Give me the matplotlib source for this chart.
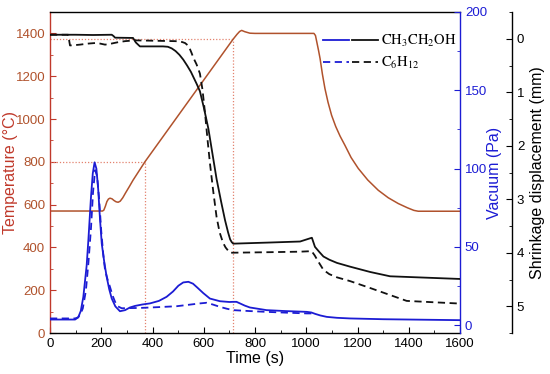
import numpy as np
import matplotlib
matplotlib.use("Agg")
import matplotlib.pyplot as plt
from matplotlib.ticker import MultipleLocator
from matplotlib.legend_handler import HandlerTuple

plt.rcParams['font.family'] = ['Liberation Sans', 'DejaVu Sans']
plt.rcParams['mathtext.fontset'] = 'stix'

# ---- data ----
temp_t = [0, 205, 210, 216, 222, 228, 234, 242, 250, 258, 266, 274, 284, 295, 310, 324, 371,
          714, 730, 740, 748, 760, 780, 800, 1030, 1036, 1042, 1048, 1054, 1063, 1073, 1085,
          1099, 1115, 1132, 1151, 1175, 1203, 1240, 1281, 1320, 1359, 1395, 1420, 1437, 1600]
temp_T = [570, 570, 574, 592, 614, 626, 630, 627, 619, 613, 611, 616, 632, 655, 685, 714, 801,
          1372, 1396, 1409, 1414, 1408, 1401, 1400, 1400, 1390, 1355, 1320, 1282, 1210, 1142, 1078,
          1017, 965, 920, 877, 820, 769, 715, 667, 632, 605, 585, 573, 569, 569]

vac_eth_t = [0, 98, 110, 120, 130, 143, 150, 160, 167, 174, 181, 188, 195, 202, 212, 221, 231,
             241, 255, 273, 293, 312, 332, 360, 390, 425, 455, 480, 501, 520, 540, 558, 575,
             598, 624, 663, 700, 715, 728, 740, 760, 780, 845, 920, 1002, 1020, 1035, 1055,
             1080, 1120, 1171, 1300, 1600]
vac_eth_v = [3.6, 3.6, 5, 9, 18, 38, 55, 82, 97, 104, 100, 87, 68, 52, 40, 31, 23,
             17, 12, 8.9, 9.6, 11.3, 12.3, 13.2, 13.9, 15.5, 18.1, 21.5, 25.2, 27.3, 27.7, 26.5, 24,
             20.5, 17, 15.3, 14.8, 14.9, 14.9, 14, 12.5, 11.3, 9.6, 9, 8.5, 8.1, 7.2, 6.2,
             5.3, 4.7, 4.3, 3.8, 3.2]

vac_hex_t = [0, 98, 110, 120, 128, 140, 150, 160, 168, 176, 184, 192, 200, 208, 215, 225, 234,
             244, 254, 265, 280, 310, 351, 420, 494, 540, 585, 611, 635, 663, 690, 715, 780,
             845, 920, 1002, 1028]
vac_hex_v = [4.3, 4.3, 5, 7.5, 10.7, 22, 40, 62, 85, 99, 95, 80, 60, 45, 35, 29, 24.5,
             19, 14.9, 12, 10.8, 10.9, 11, 11.5, 12.1, 13, 13.9, 14.3, 13.2, 11.7, 10.5, 9.6, 9,
             8.5, 8, 7.5, 7.5]

shr_eth_t = [0, 100, 168, 241, 248, 254, 324, 335, 351, 441, 460, 475, 490, 505, 520, 535, 550,
             560, 572, 585, 600, 618, 635, 650, 668, 683, 695, 703, 709, 715, 850, 976, 1015,
             1022, 1034, 1050, 1067, 1090, 1120, 1171, 1250, 1327, 1600]
shr_eth_s = [-0.075, -0.075, -0.07, -0.075, -0.05, -0.02, -0.015, 0.07, 0.143, 0.143, 0.15, 0.18,
             0.23, 0.3, 0.39, 0.5, 0.62, 0.72, 0.84, 0.98, 1.28, 1.68, 2.18, 2.62, 3.05, 3.39,
             3.62, 3.75, 3.8, 3.83, 3.81, 3.79, 3.73, 3.72, 3.89, 3.98, 4.07, 4.13, 4.19, 4.26,
             4.36, 4.44, 4.49]

shr_hex_t = [0, 71, 78, 95, 117, 150, 176, 195, 215, 240, 270, 293, 332, 488, 507, 518, 527,
             537, 545, 552, 559, 572, 585, 595, 605, 614, 624, 637, 650, 662, 675, 685, 695,
             702, 850, 976, 1021, 1033, 1045, 1067, 1090, 1120, 1171, 1250, 1327, 1392, 1600]
shr_hex_s = [-0.075, -0.075, 0.125, 0.12, 0.11, 0.09, 0.08, 0.09, 0.11, 0.09, 0.06, 0.045,
             0.03, 0.045, 0.05, 0.065, 0.08, 0.12, 0.18, 0.26, 0.35, 0.48, 0.65, 0.95, 1.39, 1.85,
             2.32, 2.85, 3.33, 3.62, 3.81, 3.9, 3.96, 4.0, 3.99, 3.98, 3.97, 4.05, 4.15, 4.32,
             4.4, 4.46, 4.53, 4.66, 4.79, 4.9, 4.95]

ref_times = [370, 714]
ref_temps = [800, 1372]

x_ticks = list(range(0, 1601, 200))
temp_ticks = list(range(0, 1401, 200))
vac_ticks = [0, 50, 100, 150, 200]
shr_ticks = [0, 1, 2, 3, 4, 5]

# ---- colours ----
c_temp = '#b0522c'
c_temp_ax = '#c0392b'
c_blue = '#1c1cd4'
c_black = '#111111'
c_ref = '#e3826f'

fig = plt.figure(figsize=(5.5, 3.74), dpi=100)
ax = fig.add_axes([50/550, 41/374, 410/550, 321/374])
ax2 = ax.twinx()
ax3 = ax.twinx()

# reference dotted lines
for rt, rT in zip(ref_times, ref_temps):
    ax.plot([0, rt], [rT, rT], ls=(0, (1, 1.5)), color=c_ref, lw=0.9)
    ax.plot([rt, rt], [0, rT], ls=(0, (1, 1.5)), color=c_ref, lw=0.9)

ax.plot(temp_t, temp_T, color=c_temp, lw=1.1)
l_be, = ax2.plot(vac_eth_t, vac_eth_v, color=c_blue, lw=1.3)
l_bh, = ax2.plot(vac_hex_t, vac_hex_v, color=c_blue, lw=1.3, ls=(0, (4, 2.5)))
l_ke, = ax3.plot(shr_eth_t, shr_eth_s, color=c_black, lw=1.3)
l_kh, = ax3.plot(shr_hex_t, shr_hex_s, color=c_black, lw=1.3, ls=(0, (4, 2.5)))

# axes limits/ticks
ax.set_xlim(0, 1600)
ax.set_ylim(0, 1500)
ax.set_xticks(x_ticks)
ax.xaxis.set_minor_locator(MultipleLocator(100))
ax.set_yticks(temp_ticks)
ax.yaxis.set_minor_locator(MultipleLocator(100))
ax2.set_ylim(-5, 200)
ax2.set_yticks(vac_ticks)
ax2.yaxis.set_minor_locator(MultipleLocator(25))
ax3.set_ylim(5.5, -0.5)
ax3.set_yticks(shr_ticks)
ax3.yaxis.set_minor_locator(MultipleLocator(0.5))

fs = 9.5
ax.tick_params(axis='x', which='both', direction='in', labelsize=fs, colors='black')
ax.tick_params(axis='x', which='major', length=4)
ax.tick_params(axis='x', which='minor', length=2)
ax.tick_params(axis='y', which='both', direction='in', labelsize=fs, colors=c_temp_ax,
               labelcolor=c_temp)
ax.tick_params(axis='y', which='major', length=4)
ax.tick_params(axis='y', which='minor', length=2)
ax2.tick_params(axis='y', which='both', direction='in', labelsize=fs, colors=c_blue)
ax2.tick_params(axis='y', which='major', length=4)
ax2.tick_params(axis='y', which='minor', length=2)
ax3.tick_params(axis='y', which='both', direction='in', labelsize=fs, colors='black')
ax3.tick_params(axis='y', which='major', length=4)
ax3.tick_params(axis='y', which='minor', length=2)

# spines
ax.spines['left'].set_color(c_temp_ax)
ax.spines['right'].set_visible(False)
for s in ['left', 'top', 'bottom']:
    ax2.spines[s].set_visible(False)
    ax3.spines[s].set_visible(False)
ax2.spines['right'].set_color(c_blue)
ax3.spines['right'].set_position(('axes', 462/410))
for sp in list(ax.spines.values()) + list(ax2.spines.values()) + list(ax3.spines.values()):
    sp.set_linewidth(1.0)

ax.set_xlabel('Time (s)', fontsize=11.5, labelpad=1)
ax.set_ylabel('Temperature (°C)', fontsize=11.5, color=c_temp_ax)
ax.yaxis.set_label_coords(-0.078, 0.5)
ax2.set_ylabel('Vacuum (Pa)', fontsize=11.5, color=c_blue, labelpad=0)
ax3.set_ylabel('Shrinkage displacement (mm)', fontsize=11.5, color='black', labelpad=4)

# legend
leg = ax3.legend([(l_be, l_ke), (l_bh, l_kh)],
                 [r'$\mathrm{CH_3CH_2OH}$', r'$\mathrm{C_6H_{12}}$'],
                 handler_map={tuple: HandlerTuple(ndivide=None, pad=0.25)},
                 loc='upper right', bbox_to_anchor=(1.012, 0.962), frameon=False,
                 fontsize=10.5, handlelength=3.8, handletextpad=0.15, labelspacing=0.4,
                 borderaxespad=0.2)

fig.savefig('out.png', dpi=100)
